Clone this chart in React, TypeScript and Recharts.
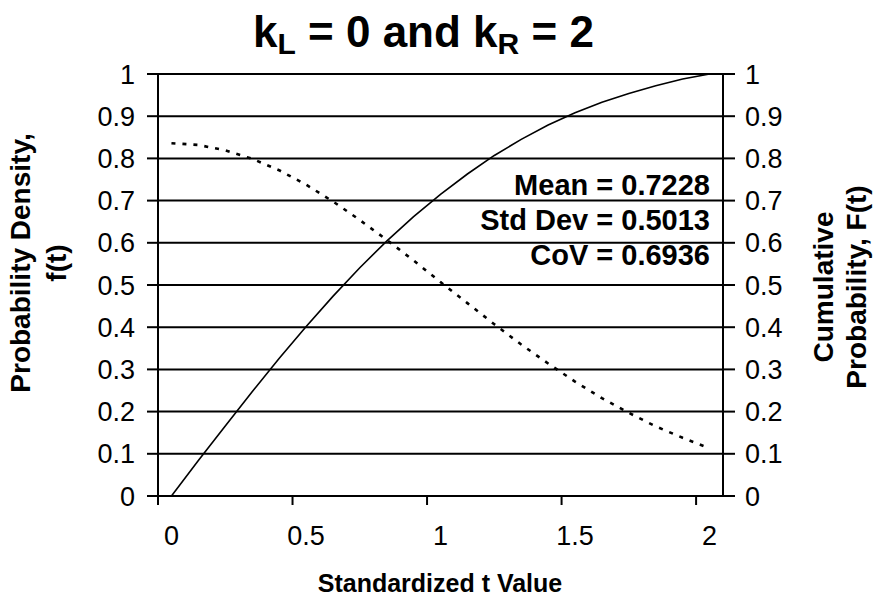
import React from 'react';
import {
  ComposedChart,
  Line,
  XAxis,
  YAxis,
  CartesianGrid,
} from 'recharts';

// standardized t values, density f(t) and cumulative F(t)
const T_VALUES = [0, 0.1, 0.2, 0.3, 0.4, 0.5, 0.6, 0.7, 0.8, 0.9, 1.0, 1.1, 1.2, 1.3, 1.4, 1.5, 1.6, 1.7, 1.8, 1.9, 2.0];
const PDF_VALUES = [0.836, 0.832, 0.819, 0.799, 0.772, 0.738, 0.698, 0.654, 0.607, 0.558, 0.507, 0.457, 0.407, 0.359, 0.314, 0.271, 0.232, 0.197, 0.165, 0.138, 0.113];
const CDF_VALUES = [0, 0.084, 0.166, 0.247, 0.326, 0.401, 0.473, 0.541, 0.604, 0.662, 0.715, 0.763, 0.807, 0.845, 0.879, 0.908, 0.933, 0.954, 0.972, 0.988, 1.0];

const X_TICKS = [0, 0.5, 1, 1.5, 2];
const Y_TICKS = [0, 0.1, 0.2, 0.3, 0.4, 0.5, 0.6, 0.7, 0.8, 0.9, 1];

const STATS = ['Mean = 0.7228', 'Std Dev = 0.5013', 'CoV = 0.6936'];

const data = T_VALUES.map((t, i) => ({ t, pdf: PDF_VALUES[i], cdf: CDF_VALUES[i] }));

const FONT = '"Liberation Sans", Arial, Helvetica, sans-serif';
const W = 876;
const H = 608;
const PLOT_TOP = 74;
const PLOT_BOTTOM = 496;
const LEFT_W = 158;
const RIGHT_W = 153;

// excel draws the category ticks half a step left of the labels
const XTick = (props: any) => {
  const { x, payload } = props;
  const shift = 13.45;
  return (
    <g>
      <line x1={x - shift} x2={x - shift} y1={PLOT_BOTTOM} y2={PLOT_BOTTOM + 9} stroke="#000" strokeWidth={2} />
      <text x={x} y={PLOT_BOTTOM + 49} textAnchor="middle" fontSize={27} fontFamily={FONT} fill="#000">
        {payload.value}
      </text>
    </g>
  );
};

const App: React.FC = () => {
  return (
    <div style={{ position: 'absolute', left: 0, top: 0, width: W, height: H, background: '#fff' }}>
      <ComposedChart
        width={W}
        height={H}
        data={data}
        margin={{ top: PLOT_TOP, right: 0, bottom: 0, left: 0 }}
      >
        <CartesianGrid vertical={false} stroke="#000" strokeWidth={2} yAxisId="left" />
        <XAxis
          dataKey="t"
          type="number"
          domain={[-0.05, 2.05]}
          ticks={X_TICKS}
          height={H - PLOT_BOTTOM}
          axisLine={{ stroke: '#000', strokeWidth: 2 }}
          tickLine={false}
          tick={<XTick />}
          interval={0}
        />
        <YAxis
          yAxisId="left"
          domain={[0, 1]}
          ticks={Y_TICKS}
          width={LEFT_W}
          interval={0}
          axisLine={{ stroke: '#000', strokeWidth: 2 }}
          tickLine={{ stroke: '#000', strokeWidth: 2 }}
          tickSize={11}
          tickMargin={12}
          tick={{ fontSize: 27, fill: '#000', fontFamily: FONT }}
        />
        <YAxis
          yAxisId="right"
          orientation="right"
          domain={[0, 1]}
          ticks={Y_TICKS}
          width={RIGHT_W}
          interval={0}
          axisLine={{ stroke: '#000', strokeWidth: 2 }}
          tickLine={{ stroke: '#000', strokeWidth: 2 }}
          tickSize={12}
          tickMargin={10}
          tick={{ fontSize: 27, fill: '#000', fontFamily: FONT }}
        />
        <Line
          yAxisId="left"
          dataKey="pdf"
          type="linear"
          stroke="#000"
          strokeWidth={2.6}
          strokeDasharray="4 7"
          dot={false}
          isAnimationActive={false}
        />
        <Line
          yAxisId="right"
          dataKey="cdf"
          type="linear"
          stroke="#000"
          strokeWidth={1.6}
          dot={false}
          isAnimationActive={false}
        />
      </ComposedChart>

      <svg
        width={W}
        height={H}
        style={{ position: 'absolute', left: 0, top: 0, pointerEvents: 'none' }}
        fontFamily={FONT}
        fontWeight="bold"
        fill="#000"
      >
        <text x={253} y={47} fontSize={44}>
          <tspan>k</tspan>
          <tspan fontSize={30} dy={7}>L</tspan>
          <tspan dy={-7}> = 0 and k</tspan>
          <tspan fontSize={30} dy={7}>R</tspan>
          <tspan dy={-7}> = 2</tspan>
        </text>

        {STATS.map((s, i) => (
          <text key={s} x={710} y={195 + i * 35} fontSize={29} textAnchor="end">
            {s}
          </text>
        ))}

        <text transform="translate(30, 263) rotate(-90)" fontSize={28} textAnchor="middle">
          Probability Density,
        </text>
        <text transform="translate(66, 263) rotate(-90)" fontSize={28} textAnchor="middle">
          f(t)
        </text>

        <text transform="translate(833, 287) rotate(-90)" fontSize={28} textAnchor="middle">
          Cumulative
        </text>
        <text transform="translate(866, 287) rotate(-90)" fontSize={28} textAnchor="middle">
          Probability, F(t)
        </text>

        <text x={440} y={592} fontSize={25} textAnchor="middle">
          Standardized t Value
        </text>
      </svg>
    </div>
  );
};

export default App;
